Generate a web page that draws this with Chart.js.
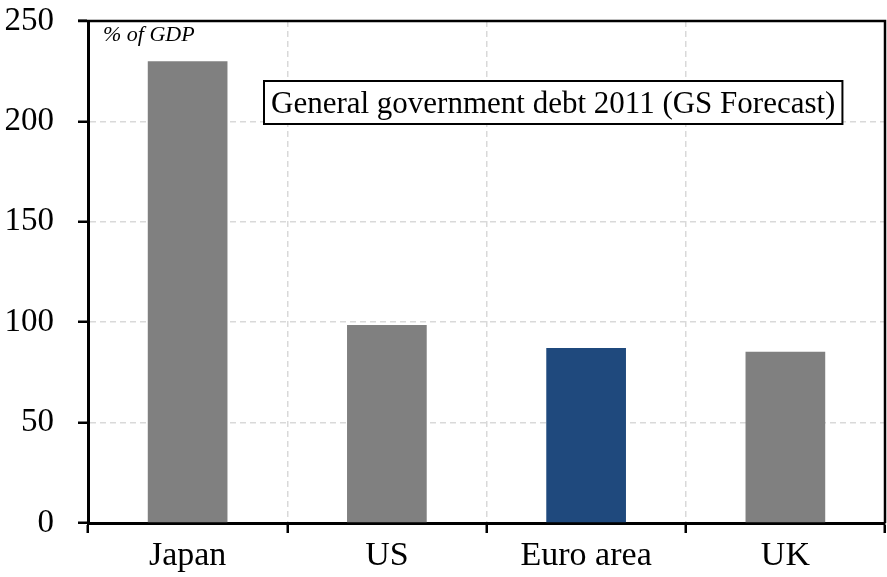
<!DOCTYPE html>
<html>
<head>
<meta charset="utf-8">
<script src="https://cdn.jsdelivr.net/npm/chart.js@4/dist/chart.umd.min.js"></script>
<style>
  html, body { margin: 0; padding: 0; background: #fff; }
  #wrap { width: 887px; height: 577px; }
</style>
</head>
<body>
<div id="wrap"><canvas id="grafico-deuda" width="887" height="577"></canvas></div>
<script>
// Deuda pública 2011 (% del PIB), previsión GS
const paises = ['Japan', 'US', 'Euro area', 'UK'];
const deuda = [230, 98.6, 87.2, 85.3];
const coloresBarras = ['#808080', '#808080', '#1f497d', '#808080'];
const ticksY = [0, 50, 100, 150, 200, 250];

const FUENTE = '"Liberation Serif", "Times New Roman", serif';

// Marco superior/derecho, nota de unidades y recuadro del título
const decoracion = {
    id: 'decoracion',
    afterDraw(chart) {
        const { ctx, chartArea: a } = chart;
        ctx.save();
        ctx.strokeStyle = '#000';
        ctx.lineWidth = 2.5;
        ctx.beginPath();
        ctx.moveTo(a.left - 10, a.top);
        ctx.lineTo(a.right, a.top);
        ctx.lineTo(a.right, a.bottom);
        ctx.stroke();

        // % of GDP
        ctx.fillStyle = '#000';
        ctx.font = 'italic 22px ' + FUENTE;
        ctx.textBaseline = 'alphabetic';
        ctx.textAlign = 'left';
        ctx.fillText('% of GDP', a.left + 15, a.top + 20);

        // recuadro del título
        const texto = 'General government debt 2011 (GS Forecast)';
        ctx.font = '31px ' + FUENTE;
        const ancho = ctx.measureText(texto).width;
        const x0 = 264, y0 = 81, w = ancho + 14, h = 43;
        ctx.fillStyle = '#fff';
        ctx.fillRect(x0, y0, w, h);
        ctx.lineWidth = 2;
        ctx.strokeRect(x0, y0, w, h);
        ctx.fillStyle = '#000';
        ctx.fillText(texto, x0 + 7, y0 + 32);
        ctx.restore();
    }
};

const ctx = document.getElementById('grafico-deuda').getContext('2d');

window.miGrafico = new Chart(ctx, {
    type: 'bar',
    data: {
        labels: paises,
        datasets: [{
            data: deuda,
            backgroundColor: coloresBarras,
            borderWidth: 0,
            barPercentage: 0.4,
            categoryPercentage: 1.0
        }]
    },
    options: {
        responsive: false,
        animation: false,
        layout: { padding: { top: 21, right: 2, left: 0, bottom: 0 } },
        plugins: {
            legend: { display: false },
            tooltip: { enabled: false },
            title: { display: false }
        },
        scales: {
            x: {
                offset: true,
                grid: {
                    offset: true,
                    color: '#d9d9d9',
                    lineWidth: 1.5,
                    tickColor: '#000',
                    tickWidth: 2.5,
                    tickLength: 10,
                    tickBorderDash: []
                },
                border: { color: '#000', width: 3, dash: [6, 4] },
                ticks: {
                    color: '#000',
                    font: { family: FUENTE, size: 34 },
                    padding: 3
                },
                afterFit(scale) {
                    scale.height = 54;
                    scale.paddingLeft = 0;
                    scale.paddingRight = 0;
                }
            },
            y: {
                min: 0,
                max: 250,
                afterBuildTicks(scale) {
                    scale.ticks = ticksY.map(v => ({ value: v }));
                },
                grid: {
                    color: '#d9d9d9',
                    lineWidth: 1.5,
                    tickColor: '#000',
                    tickWidth: 2.5,
                    tickLength: 10,
                    tickBorderDash: []
                },
                border: { color: '#000', width: 3, dash: [6, 4] },
                ticks: {
                    color: '#000',
                    font: { family: FUENTE, size: 33 },
                    padding: 24
                },
                afterFit(scale) {
                    scale.width = 88;
                    scale.paddingTop = 0;
                    scale.paddingBottom = 0;
                }
            }
        }
    },
    plugins: [decoracion]
});
</script>
</body>
</html>
